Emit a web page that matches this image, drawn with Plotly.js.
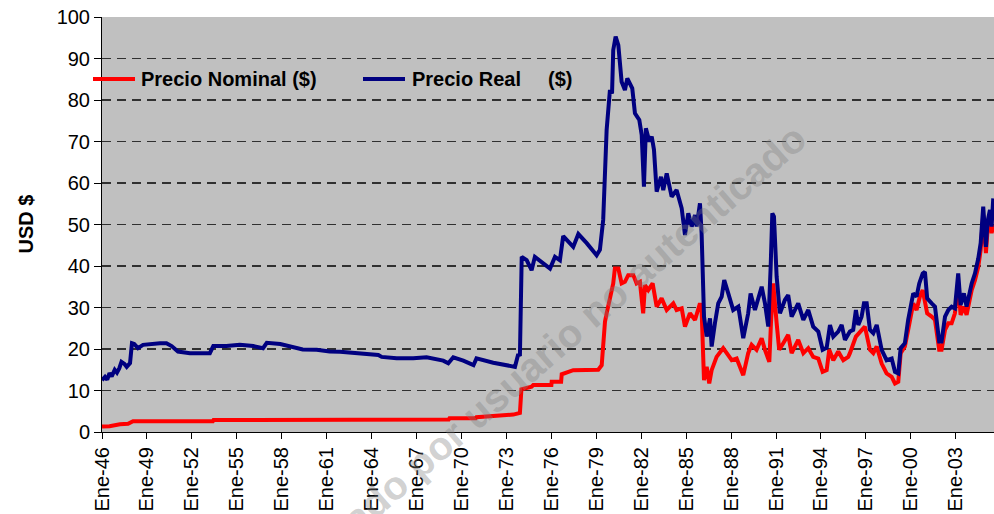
<!DOCTYPE html>
<html>
<head>
<meta charset="utf-8">
<script src="https://cdn.plot.ly/plotly-3.0.1.min.js"></script>
<style>
  html, body { margin: 0; padding: 0; background: #ffffff; }
  #chart { width: 994px; height: 514px; }
</style>
</head>
<body>
<div id="chart"></div>
<script>
// Tick positions (year) and labels
const tickYears = [1946, 1949, 1952, 1955, 1958, 1961, 1964, 1967, 1970, 1973, 1976, 1979, 1982, 1985, 1988, 1991, 1994, 1997, 2000, 2003];
const tickLabels = ["Ene-46", "Ene-49", "Ene-52", "Ene-55", "Ene-58", "Ene-61", "Ene-64", "Ene-67", "Ene-70", "Ene-73", "Ene-76", "Ene-79", "Ene-82", "Ene-85", "Ene-88", "Ene-91", "Ene-94", "Ene-97", "Ene-00", "Ene-03"];

// Series names
const seriesNames = ["Precio Nominal ($)", "Precio Real ($)"];

// Precio Real ($)
const realYears = [
  1946.0, 1946.2, 1946.35, 1946.5, 1946.65, 1946.85, 1947.0, 1947.15, 1947.3, 1947.5, 1947.65, 1947.87,
  1948.0, 1948.15, 1948.4, 1948.74, 1949.87, 1950.3, 1950.65, 1951.07, 1951.87, 1953.2, 1953.43, 1954.3,
  1955.2, 1956.1, 1956.75, 1957.0, 1957.9, 1958.75, 1959.4, 1960.33, 1961.2, 1961.9, 1964.45, 1964.67,
  1965.67, 1966.78, 1967.67, 1968.78, 1969.12, 1969.45, 1970.12, 1970.8, 1971.0, 1972.12, 1973.24, 1973.57,
  1973.79, 1973.9, 1974.02, 1974.35, 1974.68, 1974.9, 1975.91, 1976.24, 1976.57, 1976.79, 1977.46, 1977.8,
  1978.36, 1979.02, 1979.24, 1979.46, 1979.69, 1979.91, 1980.05, 1980.13, 1980.29, 1980.47, 1980.69, 1980.91,
  1981.07, 1981.4, 1981.58, 1981.87, 1982.03, 1982.18, 1982.31, 1982.54, 1982.7, 1982.85, 1983.03, 1983.32,
  1983.47, 1983.7, 1984.03, 1984.36, 1984.7, 1984.92, 1985.14, 1985.37, 1985.59, 1985.7, 1985.92, 1986.03,
  1986.19, 1986.37, 1986.59, 1986.7, 1986.92, 1987.14, 1987.37, 1987.54, 1987.81, 1988.14, 1988.48, 1988.81,
  1989.14, 1989.3, 1989.59, 1989.88, 1990.04, 1990.26, 1990.48, 1990.64, 1990.75, 1990.86, 1991.04, 1991.26,
  1991.59, 1991.81, 1992.04, 1992.48, 1992.82, 1993.15, 1993.48, 1993.82, 1994.11, 1994.38, 1994.6, 1994.82,
  1995.15, 1995.38, 1995.6, 1995.93, 1996.15, 1996.33, 1996.49, 1996.71, 1996.87, 1997.05, 1997.27, 1997.49,
  1997.72, 1998.05, 1998.38, 1998.72, 1998.94, 1999.16, 1999.32, 1999.6, 1999.82, 2000.16, 2000.38, 2000.56,
  2000.79, 2000.94, 2001.09, 2001.39, 2001.61, 2001.89, 2002.05, 2002.28, 2002.5, 2002.72, 2002.94, 2003.16,
  2003.32, 2003.54, 2003.72, 2004.06, 2004.28, 2004.5, 2004.66, 2004.83, 2005.01, 2005.12, 2005.28, 2005.39,
  2005.5
];
const realValues = [
  12.5, 13.3, 12.6, 14.2, 13.4, 15.0, 14.3, 15.3, 16.9, 16.4, 15.7, 16.6,
  21.4, 21.2, 20.2, 21.0, 21.4, 21.4, 20.7, 19.4, 19.0, 19.0, 20.7, 20.7,
  21.0, 20.7, 20.2, 21.5, 21.2, 20.5, 19.9, 19.8, 19.4, 19.35, 18.55, 18.1,
  17.75, 17.75, 18.0, 17.2, 16.55, 18.0, 17.2, 16.1, 17.75, 16.7, 16.1, 15.7,
  18.8, 18.3, 42.2, 41.4, 39.0, 42.2, 39.4, 42.2, 41.4, 47.2, 44.6, 47.7,
  45.5, 42.6, 43.9, 51.1, 72.8, 82.4, 81.6, 92.0, 95.3, 93.2, 84.4, 82.4,
  85.2, 82.8, 76.8, 75.2, 71.6, 59.1, 73.2, 70.0, 71.2, 68.0, 57.9, 61.5,
  58.3, 62.3, 56.7, 58.3, 53.9, 47.5, 52.7, 49.5, 52.3, 49.5, 55.1, 47.9,
  27.8, 23.0, 27.4, 20.6, 26.2, 31.0, 32.6, 36.6, 33.4, 29.4, 30.2, 22.6,
  28.6, 33.4, 29.4, 32.6, 35.0, 31.0, 25.4, 39.8, 52.7, 51.9, 37.4, 28.6,
  31.8, 33.0, 27.8, 31.0, 27.0, 29.4, 25.4, 24.2, 19.8, 20.3, 25.8, 23.0,
  24.2, 25.8, 22.2, 24.2, 24.6, 29.4, 25.8, 27.8, 31.0, 31.0, 24.6, 23.8,
  25.8, 19.8, 17.3, 17.7, 14.5, 14.1, 20.2, 21.4, 27.0, 33.4, 32.6, 35.8,
  38.2, 38.6, 32.2, 31.0, 30.2, 21.8, 21.8, 27.8, 29.4, 30.2, 29.8, 38.2,
  30.6, 33.4, 30.2, 35.8, 38.2, 41.8, 45.5, 54.3, 44.6, 50.7, 53.5, 49.5,
  56.3
];

// Precio Nominal ($)
const nominalYears = [
  1946.0, 1946.5, 1947.2, 1947.74, 1948.07, 1953.4, 1953.45, 1956.95, 1957.0, 1961.0, 1964.35, 1964.4,
  1966.65, 1966.7, 1969.15, 1969.2, 1970.95, 1971.0, 1973.46, 1973.9, 1974.0, 1974.68, 1974.79, 1976.0,
  1976.02, 1976.65, 1976.69, 1977.46, 1979.13, 1979.36, 1979.58, 1979.69, 1979.91, 1980.13, 1980.24, 1980.47,
  1980.69, 1980.91, 1981.13, 1981.47, 1981.69, 1981.91, 1982.13, 1982.25, 1982.47, 1982.76, 1983.03, 1983.36,
  1983.7, 1984.14, 1984.36, 1984.7, 1984.92, 1985.25, 1985.59, 1985.92, 1986.03, 1986.19, 1986.37, 1986.54,
  1986.7, 1987.03, 1987.47, 1987.7, 1988.04, 1988.37, 1988.81, 1989.14, 1989.37, 1989.7, 1990.04, 1990.26,
  1990.55, 1990.66, 1990.81, 1991.04, 1991.21, 1991.48, 1991.81, 1992.04, 1992.48, 1992.82, 1993.15, 1993.48,
  1993.82, 1994.11, 1994.38, 1994.55, 1994.82, 1995.15, 1995.49, 1995.82, 1995.93, 1996.33, 1996.93, 1997.27,
  1997.49, 1997.72, 1998.05, 1998.38, 1998.72, 1998.94, 1999.16, 1999.32, 1999.6, 1999.82, 2000.16, 2000.38,
  2000.6, 2000.79, 2001.09, 2001.39, 2001.61, 2001.89, 2002.05, 2002.28, 2002.5, 2002.72, 2002.94, 2003.16,
  2003.32, 2003.54, 2003.72, 2004.06, 2004.28, 2004.5, 2004.66, 2004.83, 2005.01, 2005.12, 2005.28, 2005.39,
  2005.5
];
const nominalValues = [
  1.3, 1.4, 1.85, 2.0, 2.6, 2.6, 2.9, 2.9, 3.05, 3.0, 3.0, 2.85,
  2.85, 3.0, 3.0, 3.3, 3.3, 3.55, 4.2, 4.6, 10.3, 10.9, 11.3, 11.3,
  12.1, 12.1, 13.9, 14.9, 15.0, 16.1, 26.6, 28.6, 32.6, 35.8, 39.4, 39.4,
  35.8, 36.2, 37.8, 37.8, 35.8, 36.2, 28.6, 35.4, 34.2, 35.8, 30.2, 32.2,
  29.4, 31.0, 29.4, 29.8, 25.4, 28.6, 27.0, 31.0, 29.4, 12.5, 15.7, 11.7,
  14.9, 18.1, 20.2, 19.0, 17.3, 17.7, 13.7, 19.0, 21.0, 19.8, 22.6, 19.8,
  16.9, 26.2, 35.8, 26.2, 19.8, 21.4, 23.4, 19.0, 22.2, 19.0, 20.2, 18.1,
  17.7, 14.5, 14.9, 19.8, 17.3, 19.4, 17.3, 18.1, 19.0, 23.0, 25.4, 19.8,
  19.0, 20.6, 16.5, 14.1, 13.3, 11.7, 12.1, 19.0, 20.6, 24.6, 31.0, 29.4,
  32.6, 34.2, 28.6, 27.8, 27.0, 19.8, 19.8, 24.6, 26.2, 26.2, 28.6, 35.8,
  28.2, 30.2, 28.2, 34.2, 36.6, 39.8, 43.9, 52.3, 43.1, 48.7, 51.5, 47.9,
  49.9
];

const FONT = "Liberation Sans, Arial, Helvetica, sans-serif";
const RED = "#ff0000";
const NAVY = "#000080";

// plot area in pixels: left 102, top 17, width 892, height 415
const px = v => (v - 102) / 892;
const py = v => (432 - v) / 415;

const traces = [
  {
    type: "scatter", mode: "lines",
    x: nominalYears, y: nominalValues,
    name: seriesNames[0],
    line: { color: RED, width: 4 },
    hoverinfo: "skip"
  },
  {
    type: "scatter", mode: "lines",
    x: realYears, y: realValues,
    name: seriesNames[1],
    line: { color: NAVY, width: 4 },
    hoverinfo: "skip"
  }
];

const legendY = py(79);
const legFont = { family: FONT, size: 20, color: "#000000", weight: "bold" };

const layout = {
  width: 994, height: 514,
  margin: { l: 102, r: 0, t: 17, b: 82, pad: 0 },
  paper_bgcolor: "#ffffff",
  plot_bgcolor: "#c0c0c0",
  font: { family: FONT, color: "#000000" },
  showlegend: false,
  xaxis: {
    type: "linear",
    range: [1946, 2005.55],
    tickmode: "array",
    tickvals: tickYears,
    ticktext: tickLabels,
    tickangle: -90,
    ticks: "outside", ticklen: 6, tickwidth: 1, tickcolor: "#000000",
    tickfont: { family: FONT, size: 20, color: "#000000" },
    showgrid: false, zeroline: false,
    showline: true, linecolor: "#000000", linewidth: 1,
    fixedrange: true
  },
  yaxis: {
    range: [0, 100],
    tickmode: "array",
    tickvals: [0, 10, 20, 30, 40, 50, 60, 70, 80, 90, 100],
    ticks: "outside", ticklen: 7, tickwidth: 1, tickcolor: "#000000",
    tickfont: { family: FONT, size: 20, color: "#000000" },
    showgrid: true, gridcolor: "#303030", gridwidth: 1.4, griddash: "9px,6px",
    zeroline: false,
    showline: true, linecolor: "#000000", linewidth: 1,
    fixedrange: true
  },
  shapes: [
    { type: "line", xref: "paper", yref: "paper", x0: px(93), x1: px(135), y0: legendY, y1: legendY,
      line: { color: RED, width: 4 } },
    { type: "line", xref: "paper", yref: "paper", x0: px(363), x1: px(405), y0: legendY, y1: legendY,
      line: { color: NAVY, width: 4 } }
  ],
  annotations: [
    {
      xref: "paper", yref: "paper", x: px(139), y: legendY,
      xanchor: "left", yanchor: "middle", showarrow: false,
      text: seriesNames[0], font: legFont
    },
    {
      xref: "paper", yref: "paper", x: px(410), y: legendY,
      xanchor: "left", yanchor: "middle", showarrow: false,
      text: "Precio Real", font: legFont
    },
    {
      xref: "paper", yref: "paper", x: px(546), y: legendY,
      xanchor: "left", yanchor: "middle", showarrow: false,
      text: "($)", font: legFont
    },
    {
      xref: "paper", yref: "paper",
      x: px(25), y: 0.5,
      xanchor: "center", yanchor: "middle",
      text: "USD $", textangle: -90, showarrow: false,
      font: { family: FONT, size: 20, color: "#000000", weight: "bold" }
    },
    {
      xref: "paper", yref: "paper",
      x: 0.463, y: 0.125,
      xanchor: "center", yanchor: "middle",
      text: "Descargado por usuario no autenticado",
      textangle: -41, showarrow: false,
      font: { family: FONT, size: 40, color: "rgba(126,126,126,0.37)", weight: "bold" }
    }
  ]
};

Plotly.newPlot("chart", traces, layout, { displayModeBar: false, staticPlot: true });
</script>
</body>
</html>
